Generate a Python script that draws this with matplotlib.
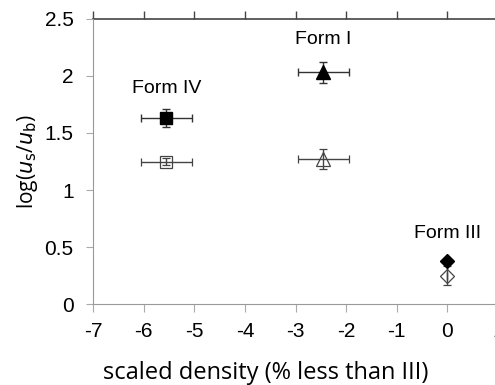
import matplotlib
matplotlib.use("Agg")
import matplotlib.pyplot as plt

# scaled density (% less than III) and log(us/ub) for each form
forms = ["Form IV", "Form I", "Form III"]
density = [-5.55, -2.45, 0.0]
density_err = [0.5, 0.5, 0.0]
filled_y = [1.63, 2.03, 0.38]
filled_yerr = [0.08, 0.09, 0.02]
open_y = [1.25, 1.27, 0.25]
open_yerr = [0.03, 0.09, 0.08]
markers = ["s", "^", "D"]
marker_sizes = [8.5, 10, 7.5]
label_y = [1.89, 2.32, 0.62]

x_ticks = [-7, -6, -5, -4, -3, -2, -1, 0, 1]
y_ticks = [0, 0.5, 1, 1.5, 2, 2.5]
y_tick_labels = ["0", "0.5", "1", "1.5", "2", "2.5"]

plt.rcParams["font.family"] = ["Liberation Sans", "DejaVu Sans"]

fig = plt.figure(figsize=(4.95, 3.85), dpi=100)
ax = fig.add_axes([0.188, 0.21, 0.818, 0.741])

for i in range(len(forms)):
    ax.errorbar(density[i], filled_y[i], xerr=density_err[i], yerr=filled_yerr[i],
                fmt=markers[i], color="black", mfc="black", mec="black",
                ms=marker_sizes[i], ecolor="#333333", elinewidth=1, capsize=3, zorder=3)
    ax.errorbar(density[i], open_y[i], xerr=density_err[i], yerr=open_yerr[i],
                fmt=markers[i], color="black", mfc="none", mec="#444444",
                ms=marker_sizes[i], mew=0.9, ecolor="#444444", elinewidth=1,
                capsize=3, zorder=3)
    ax.text(density[i], label_y[i], forms[i], ha="center", va="center", fontsize=14)

ax.set_xlim(-7, 1)
ax.set_ylim(0, 2.5)
ax.set_xticks(x_ticks)
ax.set_xticklabels([str(t) for t in x_ticks])
ax.set_yticks(y_ticks)
ax.set_yticklabels(y_tick_labels)

ax.tick_params(axis="x", direction="out", length=6, color="#aaaaaa", labelsize=15, pad=7)
ax.tick_params(axis="y", direction="out", length=5, color="#aaaaaa", labelsize=15, pad=9)

# darker ticks on the top edge
top = ax.secondary_xaxis("top")
top.set_xticks(x_ticks)
top.tick_params(direction="out", length=6, width=1, color="#444444", labeltop=False)
top.spines["top"].set_color("#444444")
top.spines["top"].set_linewidth(1.2)

for side in ["left", "bottom"]:
    ax.spines[side].set_color("#999999")
ax.spines["top"].set_visible(False)
ax.spines["right"].set_visible(False)

ax.set_xlabel("scaled density (% less than III)", fontsize=17,
              family=["Open Sans", "DejaVu Sans"])
ax.xaxis.set_label_coords(0.427, -0.2)
ax.set_ylabel(r"log($\mathit{u}_\mathrm{s}$/$\mathit{u}_\mathrm{b}$)", fontsize=15,
              family=["Open Sans", "DejaVu Sans"], labelpad=3)

fig.savefig("out.png", dpi=100)
